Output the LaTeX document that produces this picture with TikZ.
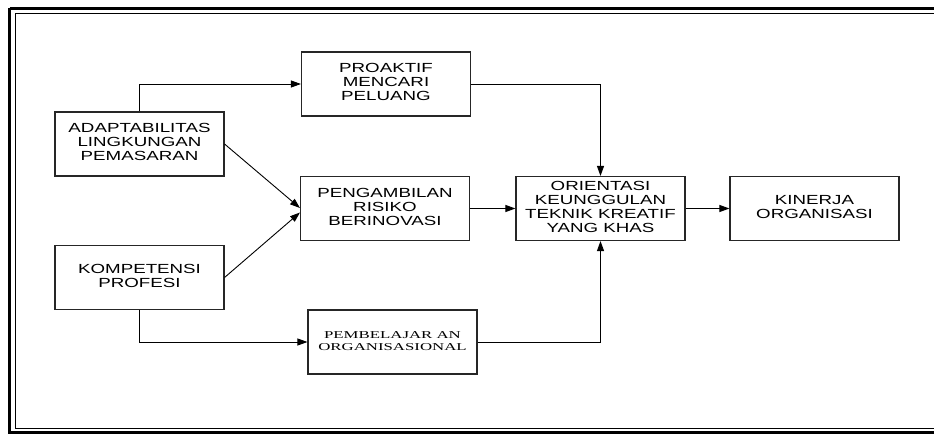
\documentclass[tikz,border=0pt]{standalone}
\usepackage{fontspec}
\setmainfont{Liberation Sans}
\newfontfamily\serifbox{Liberation Serif}
\usetikzlibrary{arrows.meta}
\newcommand{\widetext}[1]{\scalebox{1.42}[1]{\begin{tabular}{@{}c@{}}#1\end{tabular}}}
\newcommand{\widerserif}[1]{\scalebox{1.6}[1]{\begin{tabular}{@{}c@{}}#1\end{tabular}}}
\begin{document}
\begin{tikzpicture}[x=1pt,y=-1pt,
  boxnode/.style={draw=black!85,line width=1.1pt,minimum width=169pt,minimum height=64pt,inner sep=0pt,
    font=\fontsize{13.2}{14}\selectfont},
  serifnode/.style={boxnode,font=\serifbox\fontsize{10.5}{12.7}\selectfont},
  conn/.style={line width=0.9pt,-{Triangle[length=10pt,width=7pt]}}]
\useasboundingbox (0,0) rectangle (934,435);
% frame
\draw[line width=3pt] (9.5,8.5) -- (945,8.5);
\draw[line width=3pt] (9.5,8.5) -- (9.5,432.5) -- (945,432.5);
\draw[line width=1.3pt] (945,13.8) -- (15.6,13.8) -- (15.6,428.8) -- (945,428.8);
% boxes
\node[boxnode] (adapt) at (139.5,144) {\widetext{ADAPTABILITAS\\LINGKUNGAN\\PEMASARAN}};
\node[boxnode] (pro) at (386,84) {\widetext{PROAKTIF\\MENCARI\\PELUANG}};
\node[boxnode] (peng) at (385,208.5) {\widetext{PENGAMBILAN\\RISIKO\\BERINOVASI}};
\node[boxnode] (ori) at (600.5,208.5) {\widetext{ORIENTASI\\KEUNGGULAN\\TEKNIK KREATIF\\YANG KHAS}};
\node[boxnode] (kin) at (814.5,208.5) {\widetext{KINERJA\\ORGANISASI}};
\node[boxnode] (komp) at (139.5,277.5) {\widetext{KOMPETENSI\\PROFESI}};
\node[serifnode] (pemb) at (392.5,342) {\widerserif{PEMBELAJAR AN\\ORGANISASIONAL}};
% connectors
\draw[conn] (adapt.north) |- (pro.west);
\draw[conn] (adapt.east) -- ([yshift=0.5pt]peng.west);
\draw[conn] (komp.east) -- ([yshift=-4pt]peng.west);
\draw[conn] (komp.south) |- (pemb.west);
\draw[conn] (pro.east) -| (ori.north);
\draw[conn] (pemb.east) -| (ori.south);
\draw[conn] (peng.east) -- (ori.west);
\draw[conn] (ori.east) -- (kin.west);
\end{tikzpicture}
\end{document}
